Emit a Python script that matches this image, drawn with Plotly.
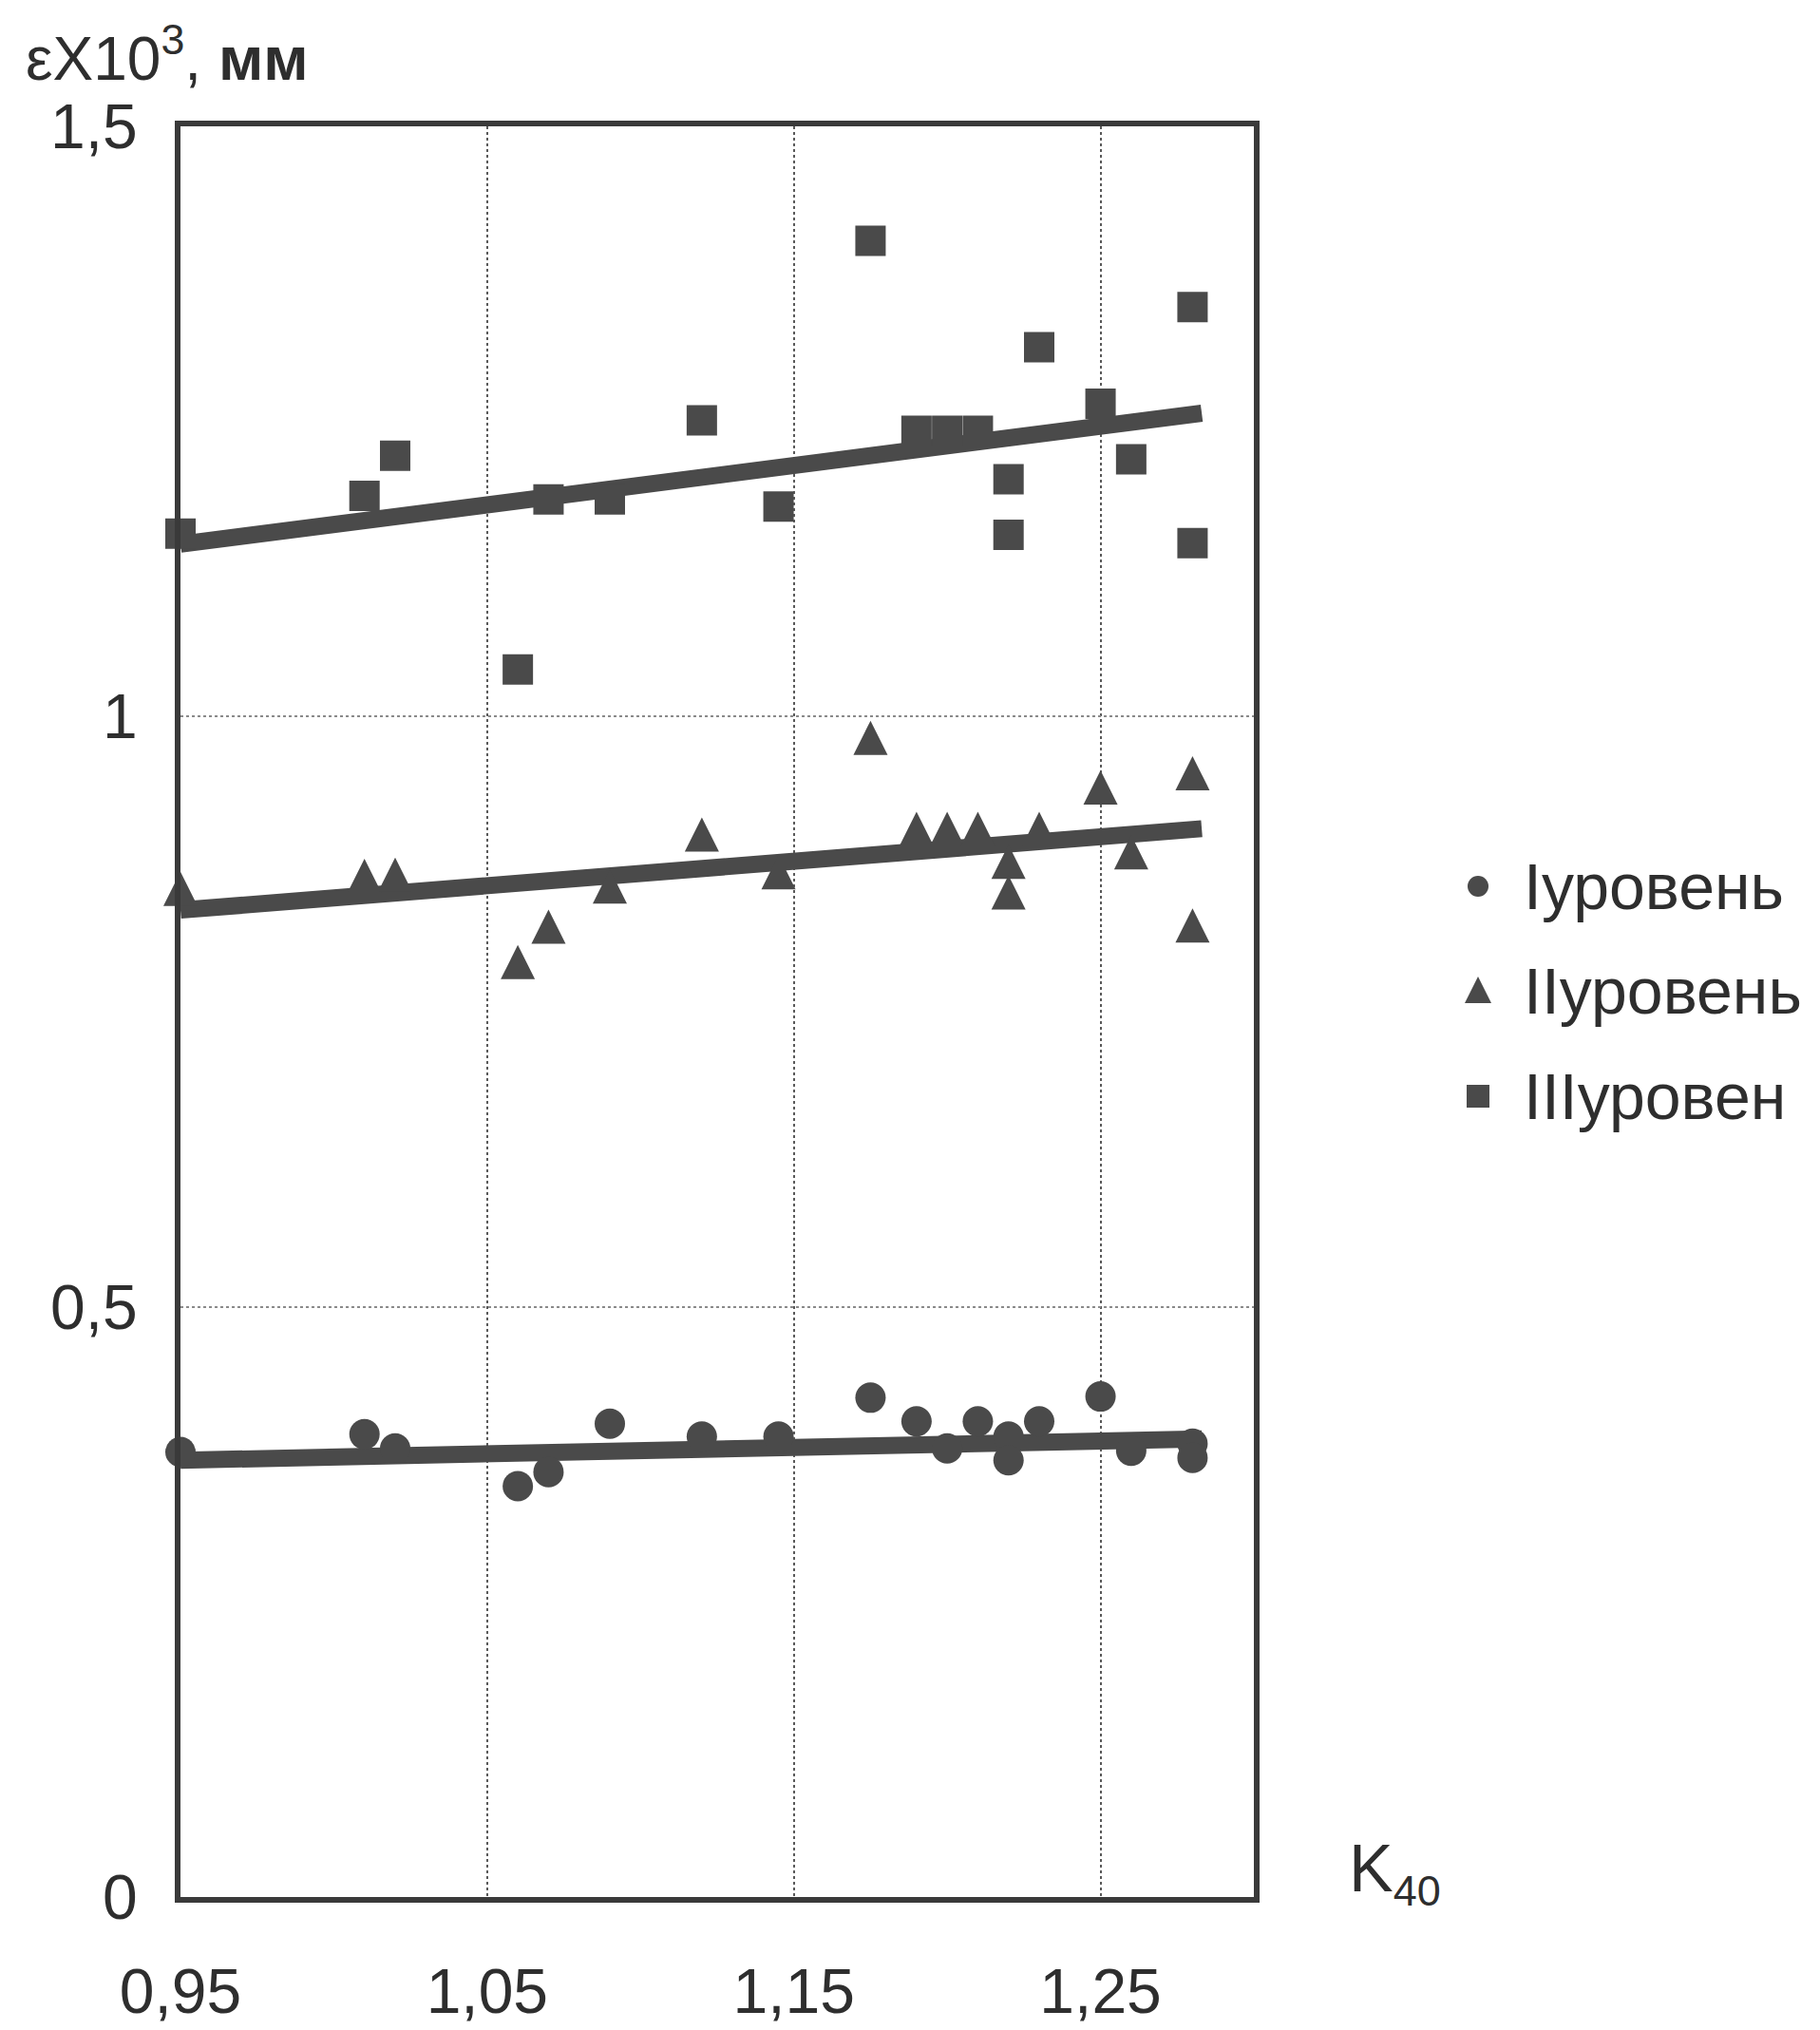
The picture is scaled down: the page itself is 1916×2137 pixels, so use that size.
import plotly.graph_objects as go

# ---- data ----
series_names = ["Iуровень", "IIуровень", "IIIуровен"]

x_I = [0.95, 1.01, 1.02, 1.06, 1.07, 1.09, 1.12, 1.145, 1.175, 1.19, 1.20, 1.21,
       1.22, 1.22, 1.23, 1.25, 1.26, 1.28, 1.28]
y_I = [0.377, 0.392, 0.380, 0.348, 0.360, 0.401, 0.390, 0.390, 0.423, 0.403, 0.380, 0.403,
       0.390, 0.370, 0.403, 0.424, 0.378, 0.384, 0.372]

x_II = [0.95, 1.01, 1.02, 1.06, 1.07, 1.09, 1.12, 1.145, 1.175, 1.19, 1.20, 1.21,
        1.22, 1.22, 1.23, 1.25, 1.26, 1.28, 1.28]
y_II = [0.854, 0.865, 0.866, 0.792, 0.822, 0.856, 0.900, 0.868, 0.982, 0.905, 0.905, 0.905,
        0.877, 0.851, 0.905, 0.940, 0.885, 0.952, 0.823]

x_III = [0.95, 1.01, 1.02, 1.06, 1.07, 1.09, 1.12, 1.145, 1.175, 1.19, 1.20, 1.21,
         1.22, 1.22, 1.23, 1.25, 1.26, 1.28, 1.28]
y_III = [1.155, 1.187, 1.221, 1.040, 1.184, 1.184, 1.251, 1.178, 1.403, 1.242, 1.242, 1.242,
         1.201, 1.154, 1.313, 1.265, 1.218, 1.347, 1.147]

trend_x = [0.95, 1.283]
trend_I = [0.370, 0.388]
trend_II = [0.836, 0.905]
trend_III = [1.146, 1.257]

x_tickvals = [0.95, 1.05, 1.15, 1.25]
x_ticktext = ["0,95", "1,05", "1,15", "1,25"]
y_tickvals = [0, 0.5, 1, 1.5]
y_ticktext = ["0", "0,5", "1", "1,5"]

# ---- styling ----
FONT = "Liberation Sans, Arial, sans-serif"
INK = "#2e2e2e"
MARK = "#4a4a4a"

# the page adds an 8 px body margin, so the figure is 8 px smaller each way
W, H = 1908, 2129
L, T, PW, PH = 182, 125, 1130, 1864

def px(fx):
    return (fx - L) / PW

def py(fy):
    return (T + PH - fy) / PH

fig = go.Figure()

xs = [x_I, x_II, x_III]
ys = [y_I, y_II, y_III]
trends = [trend_I, trend_II, trend_III]

# marker styles: an upright triangle taller than plotly's flat "triangle-up"
# is obtained from "arrow-down" rotated 180 deg and re-centred with standoff
TRI = 36
marker_styles = [
    dict(symbol="circle", size=32),
    dict(symbol="arrow-down", size=TRI, angle=180, standoff=TRI / 2),
    dict(symbol="square", size=32),
]

for i in range(3):
    fig.add_trace(go.Scatter(
        x=trend_x, y=trends[i], mode="lines",
        line=dict(color=MARK, width=18),
        showlegend=False, hoverinfo="skip", cliponaxis=False))

for i in range(3):
    fig.add_trace(go.Scatter(
        x=xs[i], y=ys[i], mode="markers", name=series_names[i],
        marker=dict(color=MARK, line=dict(width=0), **marker_styles[i]),
        showlegend=False, cliponaxis=False))

fig.update_layout(
    width=W, height=H,
    margin=dict(l=L, r=W - L - PW, t=T, b=H - T - PH, autoexpand=False),
    paper_bgcolor="white", plot_bgcolor="white",
    font=dict(family=FONT, color=INK, size=66),
    showlegend=False,
)

fig.update_xaxes(
    range=[0.95, 1.30], tickvals=x_tickvals, ticktext=x_ticktext,
    showline=True, linecolor="#3a3a3a", linewidth=6, mirror=True,
    showgrid=True, gridcolor="#5a5a5a", gridwidth=1.5, griddash="dot",
    zeroline=False, ticks="", ticklabelstandoff=37, automargin=False,
    tickfont=dict(size=66, color=INK))

fig.update_yaxes(
    range=[0, 1.5], tickvals=y_tickvals, ticktext=y_ticktext,
    showline=True, linecolor="#3a3a3a", linewidth=6, mirror=True,
    showgrid=True, gridcolor="#8a8a8a", gridwidth=1.5, griddash="dot",
    zeroline=False, ticks="", ticklabelstandoff=26, automargin=False,
    tickfont=dict(size=66, color=INK))

# axis titles
fig.add_annotation(
    text="εX10<sup>3</sup>, <b>мм</b>", xref="paper", yref="paper",
    x=px(17), y=py(49), xanchor="left", yanchor="middle", showarrow=False,
    font=dict(size=64, color=INK, family=FONT))

fig.add_annotation(
    text="K<sub><span style='font-size:45px'>40</span></sub>", xref="paper", yref="paper",
    x=px(1410), y=py(1964), xanchor="left", yanchor="middle", showarrow=False,
    font=dict(size=70, color=INK, family=FONT))

# legend (markers as pixel-sized shapes, names as text)
leg_mx = 1548
leg_tx = 1594
leg_rows = [925, 1035, 1146]
leg_marks = ["circle", "triangle", "square"]
for i in range(3):
    yy = py(leg_rows[i])
    if leg_marks[i] == "circle":
        fig.add_shape(type="circle", xref="paper", yref="paper",
                      xsizemode="pixel", ysizemode="pixel",
                      xanchor=px(leg_mx), yanchor=yy,
                      x0=-11, x1=11, y0=-11, y1=11,
                      fillcolor=MARK, line=dict(width=0))
    elif leg_marks[i] == "triangle":
        fig.add_shape(type="path", xref="paper", yref="paper",
                      xsizemode="pixel", ysizemode="pixel",
                      xanchor=px(leg_mx), yanchor=yy,
                      path="M-14,-13 L14,-13 L0,15 Z",
                      fillcolor=MARK, line=dict(width=0))
    else:
        fig.add_shape(type="rect", xref="paper", yref="paper",
                      xsizemode="pixel", ysizemode="pixel",
                      xanchor=px(leg_mx), yanchor=yy,
                      x0=-12, x1=12, y0=-12, y1=12,
                      fillcolor=MARK, line=dict(width=0))
    fig.add_annotation(
        text=series_names[i], xref="paper", yref="paper",
        x=px(leg_tx), y=yy, xanchor="left", yanchor="middle", showarrow=False,
        font=dict(size=68, color=INK, family=FONT))

fig.write_html("out.html")
